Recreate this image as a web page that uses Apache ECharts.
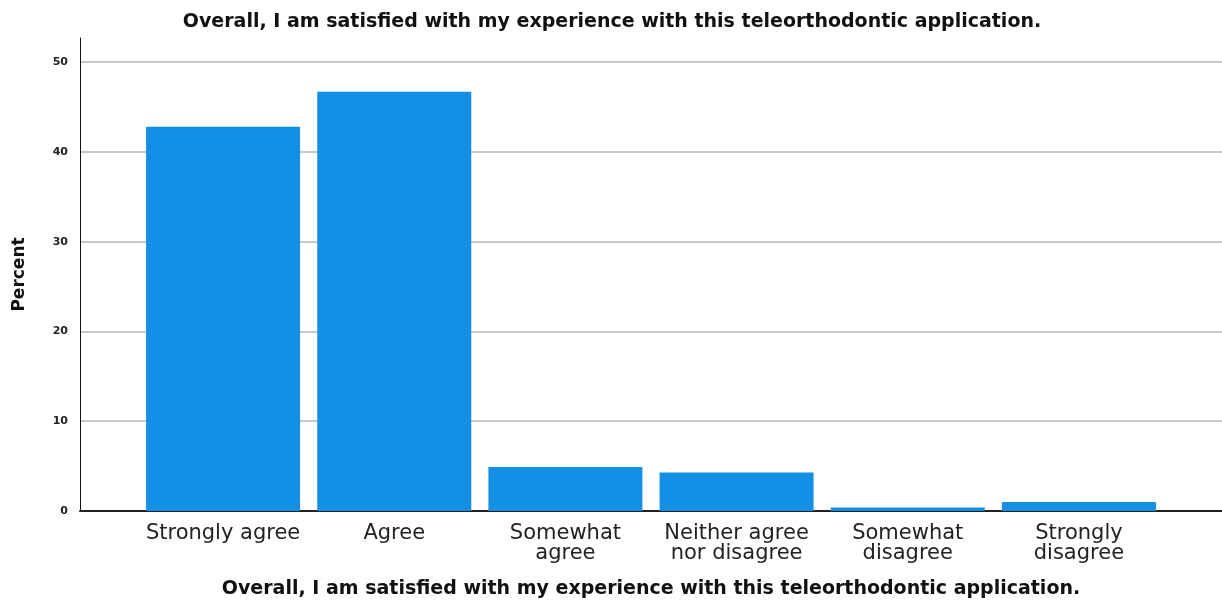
<!DOCTYPE html>
<html><head><meta charset="utf-8">
<script src="https://cdn.jsdelivr.net/npm/echarts@6/dist/echarts.min.js"></script>
<style>html,body{margin:0;padding:0;background:#fff}#c{width:1222px;height:604px}</style>
</head><body><div id="c"></div>
<script>
const titleText = 'Overall, I am satisfied with my experience with this teleorthodontic application.';
const categories = ['Strongly agree', 'Agree', 'Somewhat\nagree', 'Neither agree\nnor disagree', 'Somewhat\ndisagree', 'Strongly\ndisagree'];
const percents = [42.8, 46.7, 4.9, 4.3, 0.4, 1.0];
const yTicks = [0, 10, 20, 30, 40, 50];

const FONT = 'DejaVu Sans, Liberation Sans, Arial, sans-serif';
const chart = echarts.init(document.getElementById('c'), null, {renderer: 'canvas'});
chart.setOption({
  animation: false,
  backgroundColor: '#fff',
  title: {
    text: titleText, left: 607, textAlign: 'center', top: 8,
    textStyle: {fontFamily: FONT, fontSize: 19, fontWeight: 'bold', color: '#111'}
  },
  grid: [
    {left: 80, right: 0, top: 38, bottom: 93, outerBoundsMode: 'none', containLabel: false},
    {left: 137.5, right: 57.5, top: 38, bottom: 93, outerBoundsMode: 'none', containLabel: false}
  ],
  xAxis: [
    {gridIndex: 0, type: 'value', min: 0, max: 1, axisLabel: {show: false}, axisTick: {show: false},
     splitLine: {show: false}, axisLine: {show: true, lineStyle: {color: '#222', width: 2}},
     name: titleText, nameLocation: 'middle', nameGap: 69,
     nameTextStyle: {fontFamily: FONT, fontSize: 19, fontWeight: 'bold', color: '#111'}},
    {gridIndex: 1, type: 'category', data: categories, axisLine: {show: false}, axisTick: {show: false},
     axisLabel: {fontFamily: FONT, fontSize: 21, color: '#222', margin: 13, lineHeight: 20, interval: 0}}
  ],
  yAxis: [
    {gridIndex: 0, type: 'value', min: 0, max: 52.7, interval: 10,
     axisLine: {show: true, lineStyle: {color: '#111', width: 1}}, axisTick: {show: false},
     axisLabel: {showMaxLabel: false, fontFamily: FONT, fontSize: 11, fontWeight: 'bold', color: '#222', margin: 12,
       formatter: v => yTicks.includes(v) ? String(v) : ''},
     splitLine: {show: true, showMaxLine: false, lineStyle: {color: '#c8c8c8', width: 2}},
     name: 'Percent', nameLocation: 'middle', nameGap: 52, nameRotate: 90,
     nameTextStyle: {fontFamily: FONT, fontSize: 17, fontWeight: 'bold', color: '#111'}},
    {gridIndex: 1, type: 'value', min: 0, max: 52.7, show: false}
  ],
  series: [{
    type: 'bar', xAxisIndex: 1, yAxisIndex: 1, data: percents, barWidth: 154,
    itemStyle: {color: '#1390e6'}
  }]
});
</script></body></html>
